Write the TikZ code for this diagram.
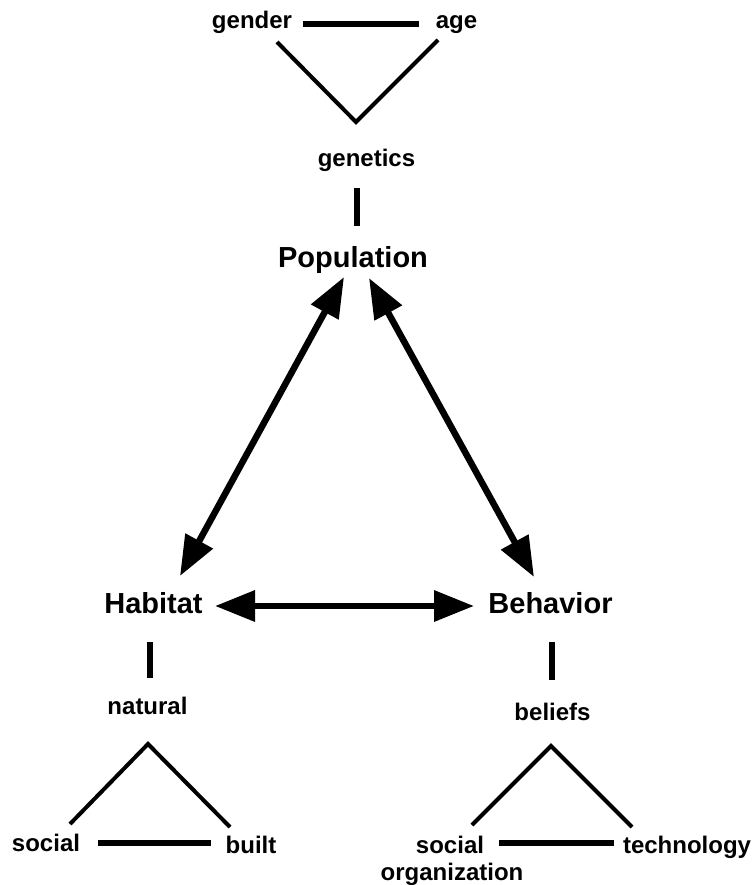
\documentclass[tikz,border=0pt]{standalone}
\usepackage{fontspec}
\setmainfont{Liberation Sans}
\usetikzlibrary{arrows.meta}
\begin{document}
\begin{tikzpicture}[x=1pt,y=-1pt,
  small/.style={font=\bfseries\fontsize{24}{28}\selectfont, inner sep=0pt, text height=17pt, text depth=5pt, anchor=base},
  big/.style={font=\bfseries\fontsize{29}{34}\selectfont, inner sep=0pt, text height=21pt, text depth=6pt, anchor=base},
  bar/.style={line width=6.5pt},
  leg/.style={line width=4pt},
  dbl/.style={line width=6.5pt, {Triangle[length=40pt,width=30pt]}-{Triangle[length=40pt,width=30pt]}}
]
\useasboundingbox (0,0) rectangle (754,885);

% text nodes
\node[small] (gender) at (252,29) {gender};
\node[small] (age) at (456.5,29) {age};
\node[small] (genetics) at (366.5,167) {genetics};
\node[big] (pop) at (353,267) {Population};
\node[big] (hab) at (153.5,613) {Habitat};
\node[big] (beh) at (550.5,613) {Behavior};
\node[small] (natural) at (147.5,714) {natural};
\node[small] (beliefs) at (552.5,720) {beliefs};
\node[small] (socialL) at (46,851) {social};
\node[small] (built) at (251,853) {built};
\node[small] (socialR) at (450,853) {social};
\node[small] (organization) at (452,880) {organization};
\node[small] (tech) at (687,853) {technology};

% connector ends
\coordinate (ga1) at (303,24);
\coordinate (ga2) at (419,24);
\coordinate (gL) at (277,42);
\coordinate (gApex) at (356,122);
\coordinate (gR) at (438,40);
\coordinate (gen1) at (357,188);
\coordinate (gen2) at (357,226);
\coordinate (popL) at (344,277);
\coordinate (habT) at (180,576);
\coordinate (popR) at (369,278);
\coordinate (behT) at (534,577);
\coordinate (habE) at (215,606);
\coordinate (behW) at (474,606);
\coordinate (hab1) at (150,642);
\coordinate (hab2) at (150,678);
\coordinate (beh1) at (552,642);
\coordinate (beh2) at (552,680);
\coordinate (nL) at (70,824);
\coordinate (nApex) at (148,744);
\coordinate (nR) at (230,827);
\coordinate (sb1) at (98,843);
\coordinate (sb2) at (211,843);
\coordinate (bL) at (472,825);
\coordinate (bApex) at (551,746);
\coordinate (bR) at (632,827);
\coordinate (st1) at (499,843);
\coordinate (st2) at (614,843);

% top triangle
\draw[bar] (ga1) -- (ga2);
\draw[leg] (gL) -- (gApex) -- (gR);
\draw[bar] (gen1) -- (gen2);

% main arrows
\draw[dbl] (popL) -- (habT);
\draw[dbl] (popR) -- (behT);
\draw[dbl] (habE) -- (behW);

% lower links
\draw[bar] (hab1) -- (hab2);
\draw[bar] (beh1) -- (beh2);
\draw[leg] (nL) -- (nApex) -- (nR);
\draw[bar] (sb1) -- (sb2);
\draw[leg] (bL) -- (bApex) -- (bR);
\draw[bar] (st1) -- (st2);
\end{tikzpicture}
\end{document}
